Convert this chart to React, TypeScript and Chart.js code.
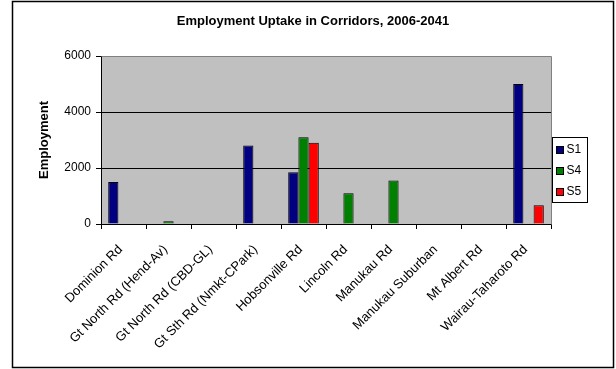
import React, { useEffect, useRef } from 'react';
import { Chart, registerables } from 'chart.js';

Chart.register(...registerables);

const chartTitle = 'Employment Uptake in Corridors, 2006-2041';
const yAxisTitle = 'Employment';
const categories = [
  'Dominion Rd',
  'Gt North Rd (Hend-Av)',
  'Gt North Rd (CBD-GL)',
  'Gt Sth Rd (Nmkt-CPark)',
  'Hobsonville Rd',
  'Lincoln Rd',
  'Manukau Rd',
  'Manukau Suburban',
  'Mt Albert Rd',
  'Wairau-Taharoto Rd',
];
const seriesNames = ['S1', 'S4', 'S5'];
const seriesColors = ['#000080', '#008000', '#FF0000'];
const s1Values = [1500, null, null, 2800, 1850, null, null, null, null, 5000];
const s4Values = [null, 100, null, null, 3100, 1100, 1550, null, null, null];
const s5Values = [null, null, null, null, 2900, null, null, null, null, 670];
const yMin = 0;
const yMax = 6000;
const yStep = 2000;

const FONT = 'Arial, "Liberation Sans", sans-serif';

const decorPlugin = {
  id: 'decor',
  beforeDraw(chart: any) {
    const { ctx, chartArea, width, height } = chart;
    ctx.save();
    ctx.fillStyle = '#FFFFFF';
    ctx.fillRect(0, 0, width, height);
    ctx.fillStyle = '#C0C0C0';
    ctx.fillRect(chartArea.left, chartArea.top, chartArea.right - chartArea.left, chartArea.bottom - chartArea.top);
    ctx.restore();
  },
  afterDraw(chart: any) {
    const { ctx, chartArea } = chart;
    ctx.save();
    // plot area border (top/right) gray
    ctx.strokeStyle = '#808080';
    ctx.lineWidth = 1;
    ctx.beginPath();
    ctx.moveTo(Math.round(chartArea.left) + 0.5, Math.round(chartArea.top) + 0.5);
    ctx.lineTo(Math.round(chartArea.right) + 0.5, Math.round(chartArea.top) + 0.5);
    ctx.lineTo(Math.round(chartArea.right) + 0.5, Math.round(chartArea.bottom) + 0.5);
    ctx.stroke();

    // outer border
    ctx.strokeStyle = '#000000';
    ctx.lineWidth = 1.5;
    ctx.strokeRect(12.5, 1.5, 601, 366);

    // chart title
    ctx.fillStyle = '#000000';
    ctx.font = 'bold 13px ' + FONT;
    ctx.textAlign = 'center';
    ctx.textBaseline = 'middle';
    ctx.fillText(chartTitle, 313, 21);

    // legend
    const lx = Math.round(chartArea.right) + 1.5;
    const ly = 137.5;
    const lw = 35;
    const lh = 65;
    ctx.fillStyle = '#FFFFFF';
    ctx.fillRect(lx, ly, lw, lh);
    ctx.strokeStyle = '#000000';
    ctx.lineWidth = 1;
    ctx.strokeRect(lx, ly, lw, lh);
    ctx.font = '12px ' + FONT;
    ctx.textBaseline = 'middle';
    ctx.textAlign = 'left';
    seriesNames.forEach((name, i) => {
      const cy = ly + 12.5 + i * 21;
      ctx.fillStyle = seriesColors[i];
      ctx.fillRect(lx + 4, cy - 3.5, 7, 7);
      ctx.strokeStyle = '#000000';
      ctx.strokeRect(lx + 4, cy - 3.5, 7, 7);
      ctx.fillStyle = '#000000';
      ctx.fillText(name, lx + 14, cy);
    });
    ctx.restore();
  },
};

export default function App() {
  const canvasRef = useRef<HTMLCanvasElement | null>(null);

  useEffect(() => {
    if (!canvasRef.current) return;
    const values = [s1Values, s4Values, s5Values];
    const chart = new Chart(canvasRef.current, {
      type: 'bar',
      data: {
        labels: categories,
        datasets: seriesNames.map((name, i) => ({
          label: name,
          data: values[i],
          backgroundColor: seriesColors[i],
          borderColor: '#000000',
          borderWidth: 1,
          categoryPercentage: 0.68,
          barPercentage: 1,
        })),
      },
      options: {
        responsive: false,
        animation: false,
        devicePixelRatio: 1,
        layout: { padding: { left: 13, right: 65, top: 56, bottom: 0 } },
        plugins: {
          legend: { display: false },
          tooltip: { enabled: false },
          title: { display: false },
        },
        scales: {
          x: {
            offset: true,
            grid: {
              display: true,
              drawOnChartArea: false,
              drawTicks: true,
              tickLength: 5,
              color: '#000000',
              offset: true,
            },
            border: { display: true, color: '#000000', width: 1 },
            ticks: {
              autoSkip: false,
              minRotation: 45,
              maxRotation: 45,
              padding: 13,
              labelOffset: -3,
              color: '#000000',
              font: { family: FONT, size: 13 },
            },
            afterFit: (scale: any) => {
              scale.height = 145;
            },
          },
          y: {
            min: yMin,
            max: yMax,
            ticks: {
              stepSize: yStep,
              padding: 5,
              color: '#000000',
              font: { family: FONT, size: 12 },
              callback: (v: any) => String(v),
            },
            grid: {
              drawOnChartArea: true,
              drawTicks: true,
              tickLength: 5,
              tickColor: '#000000',
              color: (ctx: any) => (ctx.tick && ctx.tick.value === yMax ? '#808080' : '#000000'),
            },
            border: { display: true, color: '#000000', width: 1 },
            title: {
              display: true,
              text: yAxisTitle,
              color: '#000000',
              font: { family: FONT, size: 13, weight: 'bold' },
              padding: { top: 24, bottom: 0 },
            },
            afterFit: (scale: any) => {
              scale.width = 88;
            },
          },
        },
      },
      plugins: [decorPlugin],
    });
    return () => chart.destroy();
  }, []);

  return (
    <div style={{ position: 'absolute', left: 0, top: 0, width: 616, height: 369, background: '#fff' }}>
      <canvas ref={canvasRef} width={616} height={369} style={{ display: 'block' }} />
    </div>
  );
}
